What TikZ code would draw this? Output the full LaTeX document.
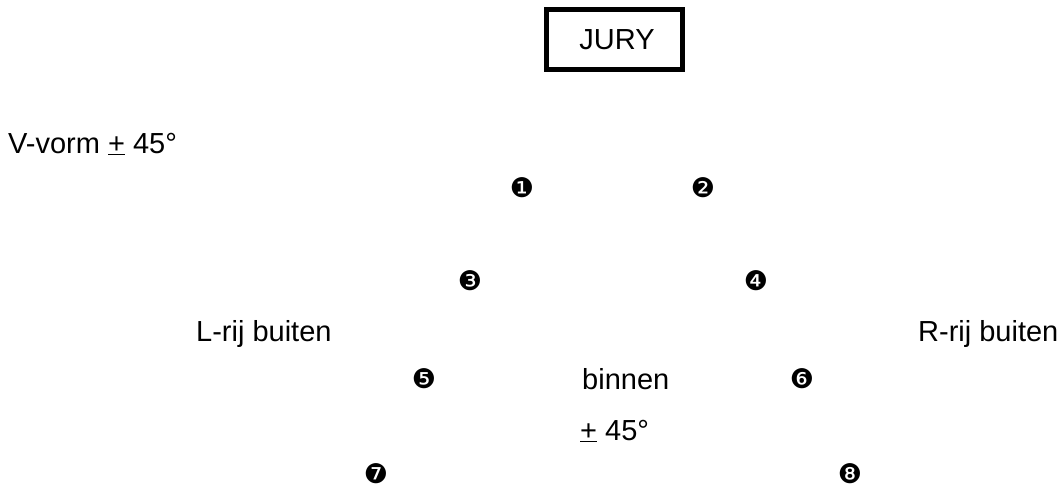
\documentclass[tikz,border=0pt]{standalone}
\usepackage{fontspec}
\setmainfont{Liberation Sans}
\newfontfamily\dingfont{DejaVu Sans}
\begin{document}
\begin{tikzpicture}[x=1pt,y=-1pt,
  lbl/.style={inner sep=0pt,anchor=base west,font=\fontsize{29}{34}\selectfont},
  seat/.style={inner sep=0pt,font=\dingfont\fontsize{27}{30}\selectfont},
  jurybox/.style={draw,line width=5pt,minimum width=136pt,minimum height=60pt,inner sep=0pt,font=\fontsize{29}{34}\selectfont}]
\useasboundingbox (0,0) rectangle (1063,488);
% jury table
\node[jurybox] (jury) at (614.5,39.5) {\hspace{5pt}JURY};
% labels
\node[lbl] (vvorm) at (8,153) {V-vorm \underline{+} 45°};
\node[lbl] (lrij) at (196,341) {L-rij buiten};
\node[lbl] (rrij) at (918,341) {R-rij buiten};
\node[lbl] (binnen) at (582,389) {binnen};
\node[lbl] (angle) at (580,440) {\underline{+} 45°};
% seat positions
\node[seat] (s1) at (522,188) {❶};
\node[seat] (s2) at (703,188) {❷};
\node[seat] (s3) at (470,281) {❸};
\node[seat] (s4) at (756,281) {❹};
\node[seat] (s5) at (424,379) {❺};
\node[seat] (s6) at (802,379) {❻};
\node[seat] (s7) at (376,474) {❼};
\node[seat] (s8) at (850,474) {❽};
\end{tikzpicture}
\end{document}
